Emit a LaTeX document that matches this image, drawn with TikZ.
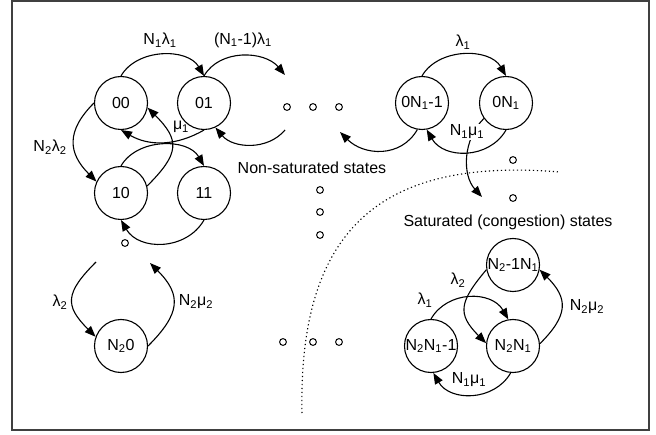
\documentclass[tikz,border=0pt]{standalone}
\usepackage{fontspec}
\setmainfont{Liberation Sans}
\usetikzlibrary{arrows.meta}
\newcommand{\ssub}[1]{\textsubscript{#1}}
\begin{document}
\begin{tikzpicture}[x=1pt,y=1pt,
  every node/.style={font=\fontsize{16}{19}\selectfont},
  state/.style={draw, circle, minimum size=53pt, inner sep=0pt, line width=1.1pt},
  dotc/.style={draw, circle, minimum size=6.8pt, inner sep=0pt, line width=1pt},
  edge/.style={line width=1.1pt, -{Triangle[length=11pt,width=8.5pt]}},
  lab/.style={inner sep=1pt},
  sep/.style={line width=1.1pt, dash pattern=on 1.2pt off 2.8pt}]
\useasboundingbox (0,0) rectangle (656,434);
\draw[line width=1.5pt, black!75] (12,4) rectangle (649,433);
% states
\node[state] (n00) at (121,331) {00};
\node[state] (n01) at (204,331) {01};
\node[state] (n10) at (121,241) {10};
\node[state] (n11) at (204,241) {11};
\node[state] (a) at (422,331) {0N\ssub{1}-1};
\node[state] (b) at (506,331) {0N\ssub{1}};
\node[state] (c) at (121,88) {N\ssub{2}0};
\node[state] (d) at (513,169) {N\ssub{2}-1N\ssub{1}};
\node[state] (e) at (431,88) {N\ssub{2}N\ssub{1}-1};
\node[state] (f) at (513,88) {N\ssub{2}N\ssub{1}};
% small dots
\node[dotc] (p1) at (287,327) {};
\node[dotc] (p2) at (313,327) {};
\node[dotc] (p3) at (339,327) {};
\node[dotc] (q1) at (320,244) {};
\node[dotc] (q2) at (320,222) {};
\node[dotc] (q3) at (320,199) {};
\node[dotc] (r1) at (125,191) {};
\node[dotc] (s1) at (513,274) {};
\node[dotc] (s2) at (513,236) {};
\node[dotc] (u1) at (283,92) {};
\node[dotc] (u2) at (313,92) {};
\node[dotc] (u3) at (339,92) {};
% free ends
\coordinate (t1) at (285,359);
\coordinate (t2) at (285,304);
\coordinate (t3) at (96,172);
\coordinate (t4) at (150,171);
\coordinate (t5) at (340,302);
\coordinate (t6) at (482,237);
\coordinate (dc0) at (302,21);
\coordinate (dc1) at (560,262);
% separator
\draw[sep] (dc0) .. controls (298,214) and (390,276) .. (dc1);
% edges
\draw[edge] (n00.north) to[out=60,in=120] (n01.north);
\draw[edge] (n01.north) to[out=60,in=130] (t1);
\draw[edge] (t2) to[out=-130,in=-50] (n01.-65);
\draw[edge] (n01.south) to[out=-150,in=-30] (n00.south);
\draw[edge] (n00.west) to[out=-135,in=135,looseness=1.3] (n10.155);
\draw[edge] (n10.15) to[out=45,in=-45,looseness=1.5] (n00.-10);
\draw[edge] (n10.north) to[out=60,in=120] (n11.north);
\draw[edge] (n11.south) to[out=-120,in=-60,looseness=1.1] (n10.south);
\draw[edge] (t3) to[out=-135,in=135,looseness=1.5] (c.160);
\draw[edge] (c.east) to[out=45,in=-45,looseness=1.4] (t4);
\draw[edge] (a.north) to[out=60,in=120] (b.north);
\draw[edge] (b.south) to[out=-120,in=-60,looseness=1.1] (a.-80);
\draw[edge] (a.-100) to[out=-120,in=-45,looseness=1.1] (t5);
\draw[edge] (b.215) .. controls +(-21,-21) and +(-20,22) .. (t6);
\draw[edge] (d.190) to[out=-130,in=135,looseness=1.45] (f.174);
\draw[edge] (e.north) to[out=60,in=120,looseness=1.1] (f.100);
\draw[edge] (f.5) to[out=45,in=-45,looseness=1.4] (d.-10);
\draw[edge] (f.-95) to[out=-120,in=-60,looseness=1.1] (e.-85);
% labels
\node[lab] (l1) at (160,394) {N\ssub{1}λ\ssub{1}};
\node[lab] (l2) at (243,394) {(N\ssub{1}-1)λ\ssub{1}};
\node[lab] (l3) at (181,307) {μ\ssub{1}};
\node[lab] (l4) at (50,287) {N\ssub{2}λ\ssub{2}};
\node[lab] (l5) at (463,392) {λ\ssub{1}};
\node[lab, fill=white] (l6) at (467,302) {N\ssub{1}μ\ssub{1}};
\node[lab] (l7) at (312,266) {Non-saturated states};
\node[lab] (l8) at (508,212) {Saturated (congestion) states};
\node[lab] (l9) at (458,154) {λ\ssub{2}};
\node[lab] (l10) at (425,134) {λ\ssub{1}};
\node[lab] (l11) at (587,127) {N\ssub{2}μ\ssub{2}};
\node[lab] (l12) at (469,54) {N\ssub{1}μ\ssub{1}};
\node[lab] (l13) at (60,132) {λ\ssub{2}};
\node[lab] (l14) at (196,132) {N\ssub{2}μ\ssub{2}};
\end{tikzpicture}
\end{document}
